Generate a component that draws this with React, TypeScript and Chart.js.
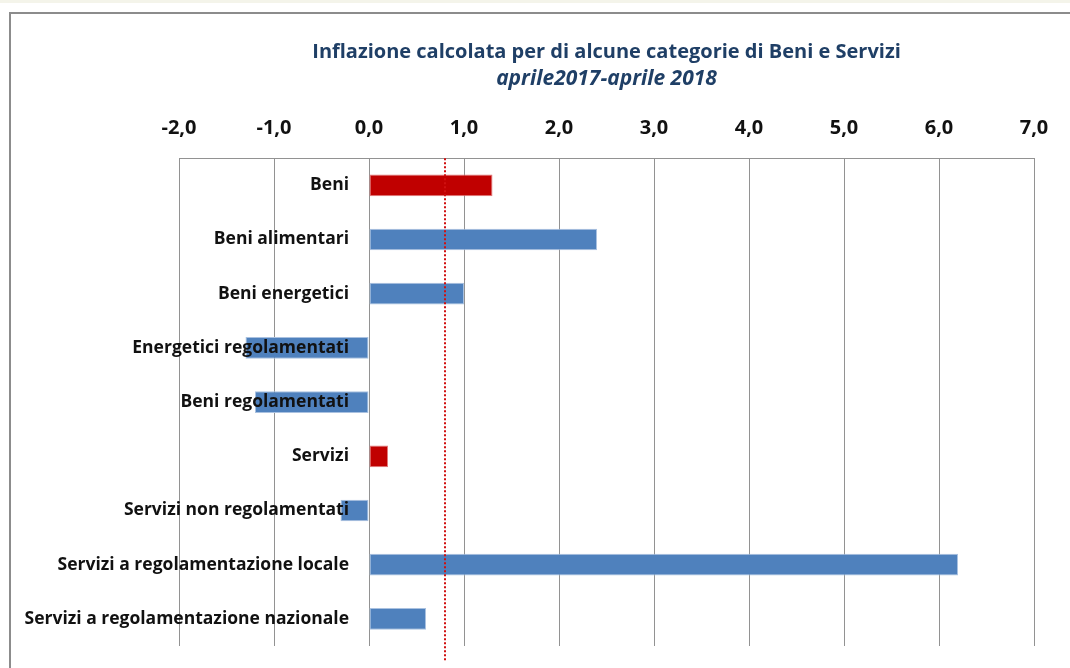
import React, { useEffect, useRef } from "react";
import { Chart, registerables } from "chart.js";

Chart.register(...registerables);

const categories = [
  "Beni",
  "Beni alimentari",
  "Beni energetici",
  "Energetici regolamentati",
  "Beni regolamentati",
  "Servizi",
  "Servizi non regolamentati",
  "Servizi a regolamentazione locale",
  "Servizi a regolamentazione nazionale",
];
const values = [1.3, 2.4, 1.0, -1.3, -1.2, 0.2, -0.3, 6.2, 0.6];
const highlighted = [true, false, false, false, false, true, false, false, false];
const referenceValue = 0.8;
const xMin = -2;
const xMax = 7;
const titleText = "Inflazione calcolata per di alcune categorie di Beni e Servizi";
const subtitleText = "aprile2017-aprile 2018";

const FONT = "'Open Sans'";

const refLinePlugin = {
  id: "refLine",
  afterDatasetsDraw(chart: any) {
    const { ctx, chartArea, scales } = chart;
    const x = Math.round(scales.x.getPixelForValue(referenceValue));
    ctx.save();
    ctx.strokeStyle = "#D01010";
    ctx.lineWidth = 2;
    ctx.setLineDash([2, 2]);
    ctx.beginPath();
    ctx.moveTo(x, chartArea.top);
    ctx.lineTo(x, chartArea.bottom + 16);
    ctx.stroke();
    ctx.restore();
  },
};

const categoryLabelPlugin = {
  id: "categoryLabels",
  afterDatasetsDraw(chart: any) {
    const { ctx, scales } = chart;
    const x = scales.x.getPixelForValue(0) - 20;
    ctx.save();
    ctx.fillStyle = "#111";
    ctx.font = `bold 17.5px ${FONT}`;
    ctx.textAlign = "right";
    ctx.textBaseline = "middle";
    categories.forEach((c, i) => {
      ctx.fillText(c, x, scales.y.getPixelForValue(i));
    });
    ctx.restore();
  },
};

export default function App() {
  const ref = useRef<HTMLCanvasElement>(null);
  useEffect(() => {
    document.body.style.margin = "0";
    const chart = new Chart(ref.current!, {
      type: "bar",
      data: {
        labels: categories,
        datasets: [
          {
            data: values,
            backgroundColor: highlighted.map((h) => (h ? "#C00000" : "#4F81BD")),
            borderColor: highlighted.map((h) => (h ? "#E27A7A" : "#A9C1E0")),
            borderWidth: 1,
            borderSkipped: false,
            barPercentage: 0.4,
            categoryPercentage: 1,
          },
        ],
      },
      options: {
        indexAxis: "y",
        animation: false,
        responsive: false,
        devicePixelRatio: 1,
        layout: { padding: { left: 179, right: 36, top: 0, bottom: 22 } },
        plugins: {
          legend: { display: false },
          tooltip: { enabled: false },
          title: {
            display: true,
            text: titleText,
            color: "#1F3F66",
            font: { family: FONT, size: 20, weight: "bold" },
            padding: { top: 40, bottom: 2 },
          },
          subtitle: {
            display: true,
            text: subtitleText,
            color: "#1F3F66",
            font: { family: FONT, size: 21, weight: "bold", style: "italic" },
            padding: { top: 0, bottom: 7 },
          },
        },
        scales: {
          x: {
            position: "top",
            min: xMin,
            max: xMax,
            ticks: {
              stepSize: 1,
              padding: 18,
              color: "#111",
              font: { family: FONT, size: 20, weight: "bold" },
              callback: (v: any) => Number(v).toFixed(1).replace(".", ","),
            },
            grid: { color: "#929292", lineWidth: 1, drawTicks: false },
            border: { display: true, color: "#929292", width: 1 },
          },
          y: {
            display: false,
          },
        },
      },
      plugins: [refLinePlugin, categoryLabelPlugin],
    });
    return () => chart.destroy();
  }, []);

  return (
    <div
      style={{
        position: "fixed",
        left: 0,
        top: 0,
        width: 1070,
        height: 668,
        background: "#fff",
        overflow: "hidden",
      }}
    >
      <div style={{ position: "absolute", left: 0, top: 0, width: 1070, height: 3, background: "#F4F4EA" }} />
      <div
        style={{
          position: "absolute",
          left: 9,
          top: 12,
          width: 1100,
          height: 700,
          borderLeft: "2px solid #8C8C8C",
          borderTop: "2px solid #8C8C8C",
        }}
      />
      <canvas ref={ref} width={1070} height={668} style={{ position: "absolute", left: 0, top: 0 }} />
    </div>
  );
}
